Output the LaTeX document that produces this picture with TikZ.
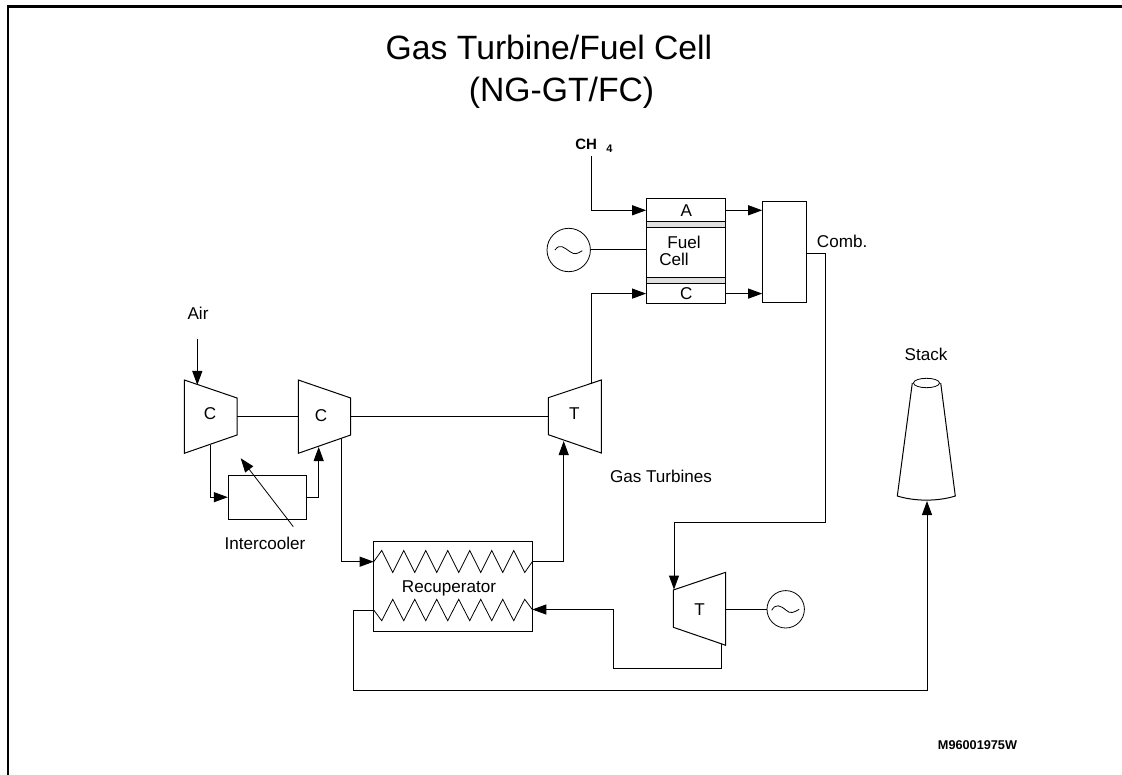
\documentclass[tikz,border=0pt]{standalone}
\usepackage{fontspec}
\setmainfont{Liberation Sans}
\usetikzlibrary{calc,arrows.meta}
\tikzset{
    unit box/.style={draw,inner sep=0pt,line width=1pt},
    gen/.style={draw,circle,inner sep=0pt,line width=0.8pt},
    flow/.style={line width=1pt,-{Triangle[length=14pt,width=10pt]}},
    pipe/.style={line width=1pt},
    machine/.style={line width=1pt},
    lab/.style={font=\fontsize{17.1}{19}\selectfont,inner sep=0pt},
    heading/.style={font=\fontsize{33.7}{38}\selectfont,inner sep=0pt,anchor=base},
}
\begin{document}
\begin{tikzpicture}[x=1pt,y=-1pt]
            \useasboundingbox (0,0) rectangle (1122,775);
            \draw[line width=2.2pt] (8,775) -- (8,6.5) -- (1122,6.5);

            \node[heading] (title1) at (549,59.5) {Gas Turbine/Fuel Cell};
            \node[heading] (title2) at (561.5,101.7) {(NG-GT/FC)};

            % fuel cell
            \node[unit box,minimum width=79.3pt,minimum height=22.7pt,lab] (fcA) at (686.3,210.3) {A};
            \node[unit box,minimum width=79.3pt,minimum height=5.6pt,fill=black!12] (stripA) at (686.3,224.5) {};
            \node[unit box,minimum width=79.3pt,minimum height=50.4pt] (fcM) at (686.3,252.5) {};
            \node[unit box,minimum width=79.3pt,minimum height=5.6pt,fill=black!12] (stripC) at (686.3,280.5) {};
            \node[unit box,minimum width=79.3pt,minimum height=20.7pt,lab] (fcC) at (686.3,293.6) {C};
            \node[lab] (fuel) at (684,242) {Fuel};
            \node[lab] (cell) at (674,259) {Cell};
            \node[unit box,minimum width=44pt,minimum height=101.7pt] (comb) at (784.7,251.9) {};
            \node[lab,anchor=west] (combl) at (816.7,241) {Comb.};
            \node[gen,minimum size=43.4pt] (gen1) at (568.7,250) {};
            \draw[line width=0.8pt] ($(gen1)+(-13.7,0)$) .. controls +(5,-7) and +(-6,-4) .. ($(gen1)+(1.3,1.7)$) .. controls +(5,3.5) and +(-5,3) .. ($(gen1)+(13.6,0.7)$);

            \node[font=\bfseries\fontsize{15}{16}\selectfont,inner sep=0pt,anchor=base] (ch) at (586.2,150) {CH};
            \node[font=\bfseries\fontsize{11}{12}\selectfont,inner sep=0pt] (chsub) at (609.5,149) {4};
            \coordinate (chin) at (591,156.5);

            % compressors and turbines
            \coordinate (C1a) at (184.3,380);
            \coordinate (C1b) at (237,398);
            \coordinate (C1c) at (237,435);
            \coordinate (C1d) at (184.3,453.3);
            \coordinate (C2a) at (298.3,380);
            \coordinate (C2b) at (350.7,398);
            \coordinate (C2c) at (350.7,435);
            \coordinate (C2d) at (298.3,453.3);
            \coordinate (T1a) at (548.3,397.7);
            \coordinate (T1b) at (601.3,380);
            \coordinate (T1c) at (601.3,453);
            \coordinate (T1d) at (548.3,434.7);
            \coordinate (T2a) at (673.3,590);
            \coordinate (T2b) at (725.7,572.3);
            \coordinate (T2c) at (725.7,645.3);
            \coordinate (T2d) at (673.3,627.3);
            \draw[machine] (C1a) -- (C1b) -- (C1c) -- (C1d) -- cycle;
            \draw[machine] (C2a) -- (C2b) -- (C2c) -- (C2d) -- cycle;
            \draw[machine] (T1a) -- (T1b) -- (T1c) -- (T1d) -- cycle;
            \draw[machine] (T2a) -- (T2b) -- (T2c) -- (T2d) -- cycle;
            \node[lab] (C1) at (210,413.7) {C};
            \node[lab] (C2) at (321,416) {C};
            \node[lab] (T1) at (574.3,413.5) {T};
            \node[lab] (T2) at (699.7,610) {T};

            % intercooler
            \node[unit box,minimum width=77.7pt,minimum height=44.3pt] (cooler) at (267.2,497.2) {};
            \node[lab] (coolerl) at (265,543) {Intercooler};
            \node[lab] (air) at (198,313.5) {Air};
            \node[lab] (gt) at (661,476) {Gas Turbines};
            \coordinate (airin) at (197.3,339);
            \coordinate (airend) at (197.3,385);
            \coordinate (C1out) at (210,444.5);
            \coordinate (C2in) at (318.7,447);
            \coordinate (coolfrom) at (293.3,526.7);
            \coordinate (coolto) at (240.7,458.3);

            % recuperator
            \node[unit box,minimum width=158.6pt,minimum height=89.7pt] (recup) at (453,586.2) {};
            \node[lab,anchor=base] (recupl) at (449,592.7) {Recuperator};
            \draw[line width=0.8pt] (373.7,561.7) -- (381.7,550.5) foreach \i in {1,...,6} { -- ++(11,22) -- ++(11,-22)} -- ++(11,22) -- (532.3,561.7);
            \draw[line width=0.8pt] (373.7,610) -- (381.7,620.7) foreach \i in {1,...,6} { -- ++(11,-21.4) -- ++(11,21.4)} -- ++(11,-21.4) -- (532.3,609.5);
            \coordinate (recai) at (373.7,561.7);
            \coordinate (recao) at (532.3,561.7);
            \coordinate (recgi) at (532.3,609.5);
            \coordinate (recgo) at (373.7,610);

            % second generator and stack
            \node[gen,minimum size=37.4pt] (gen2) at (785.7,609.3) {};
            \draw[line width=0.8pt] ($(gen2)+(-14,1)$) .. controls +(4,-7) and +(-6,-5) .. ($(gen2)+(0.5,1)$) .. controls +(4,4) and +(-5,3) .. ($(gen2)+(13.5,0)$);
            \node[lab] (stack) at (926,354.3) {Stack};
            \coordinate (S1) at (912.3,383);
            \coordinate (S2) at (940.7,383);
            \coordinate (S3) at (955.3,496);
            \coordinate (S4) at (897.3,496);
            \coordinate (S5) at (927,501);
            \draw[machine] (S1) -- (S4) .. controls (915,501.5) and (938,501.5) .. (S3) -- (S2);
            \draw[line width=0.8pt] (926.5,383) ellipse [x radius=13,y radius=4.7];
            \node[font=\bfseries\fontsize{12.7}{14}\selectfont,inner sep=0pt] (code) at (977.5,745.5) {M96001975W};

            % shafts
            \draw[pipe] (C1b |- 0,416.3) -- (C2a |- 0,416.3);
            \draw[pipe] (C2b |- 0,416.3) -- (T1a |- 0,416.3);
            \draw[pipe] (gen1.east) -- (gen1.east -| fcM.west);
            \draw[pipe] (T2c |- gen2.west) -- (gen2.west);

            % flows
            \draw[flow] (airin) -- (airend);
            \draw[flow] (C1out) |- (cooler.west);
            \draw[flow] (cooler.east) -| (C2in);
            \draw[flow,line width=0.8pt] (coolfrom) -- (coolto);
            \draw[flow] (341,438.4) |- (recai);
            \draw[flow] (recao) -| (563.7,441);
            \draw[flow] (chin) |- (fcA.west);
            \draw[flow] (591,384) |- (fcC.west);
            \draw[flow] (fcA.east) -- (fcA.east -| comb.west);
            \draw[flow] (fcC.east) -- (fcC.east -| comb.west);
            \draw[flow] (comb.east |- 0,254) -| (825.7,522) -| (674,589.5);
            \draw[flow] (721.7,644) |- (613.3,668.3) |- (recgi);
            \draw[pipe] (recgo) -| (353.3,690.7) -- (927,690.7);
            \draw[flow] (927,690.7) -- (S5);
\end{tikzpicture}
\end{document}
